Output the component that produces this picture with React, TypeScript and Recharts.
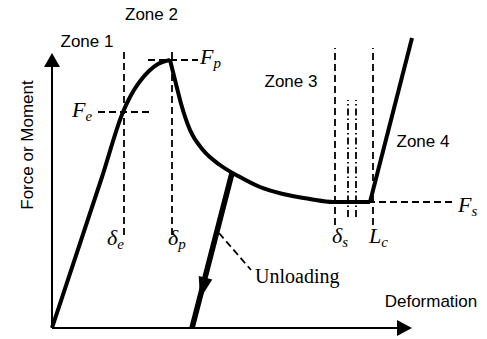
import { ComposedChart, Line, ReferenceLine, Scatter, XAxis, YAxis } from "recharts";

// deformation / force values (arbitrary units)
const LOADING_X = [0, 5.0, 7.1, 7.6, 8.2, 8.9, 9.7, 10.6, 11.8];
const LOADING_Y = [0, 15.1, 21.6, 22.7, 23.8, 24.8, 25.7, 26.4, 26.8];
const SOFTENING_X = [11.8, 12.3, 13.0, 13.8, 15.1, 16.8, 18.8, 20.8, 23.1, 25.8, 28.1, 31.8];
const SOFTENING_Y = [26.8, 24.8, 22.1, 19.8, 17.8, 16.3, 15.1, 14.1, 13.4, 12.9, 12.6, 12.6];
const STIFFENING_X = [31.8, 36.0];
const STIFFENING_Y = [12.6, 29.0];
const UNLOADING_X = [18.0, 14.0];
const UNLOADING_Y = [15.5, 0];

// characteristic points
const DELTA_E = 7.2;
const DELTA_P = 12.0;
const DELTA_S = 28.3;
const L_C = 32.1;
const DELTA_S_BAND = [29.6, 30.4];
const F_E = 21.6;
const F_P = 26.8;
const F_S = 12.6;

type Pt = { x: number; y: number };
const zip = (xs: number[], ys: number[]): Pt[] => xs.map((x, i) => ({ x, y: ys[i] }));

const loading = zip(LOADING_X, LOADING_Y);
const softening = zip(SOFTENING_X, SOFTENING_Y);
const stiffening = zip(STIFFENING_X, STIFFENING_Y);
const unloading = zip(UNLOADING_X, UNLOADING_Y);

const unloadAngle =
  (Math.atan2(-(UNLOADING_Y[1] - UNLOADING_Y[0]), UNLOADING_X[1] - UNLOADING_X[0]) * 180) / Math.PI;

const arrows = [
  { x: 0, y: 27.5, angle: -90, len: 14, half: 8 },
  { x: 36, y: 0, angle: 0, len: 15, half: 8 },
  { x: 14.8, y: 2.9, angle: unloadAngle, len: 22, half: 7 },
];

const SANS = "'Liberation Sans', Arial, sans-serif";
const SERIF = "'Liberation Serif', 'Times New Roman', serif";

const zoneLabels = [
  { x: 9.95, y: 30.8, text: "Zone 2" },
  { x: 3.5, y: 28.1, text: "Zone 1" },
  { x: 23.9, y: 24.1, text: "Zone 3" },
  { x: 37.1, y: 18.1, text: "Zone 4" },
  { x: 37.9, y: 2.1, text: "Deformation" },
];

const symbolLabels = [
  { x: 14.8, y: 26.4, main: "F", sub: "p" },
  { x: 2.0, y: 21.1, main: "F", sub: "e" },
  { x: 40.6, y: 11.6, main: "F", sub: "s" },
  { x: 5.5, y: 8.3, main: "δ", sub: "e" },
  { x: 11.6, y: 8.3, main: "δ", sub: "p" },
  { x: 28.0, y: 8.5, main: "δ", sub: "s" },
  { x: 31.7, y: 8.5, main: "L", sub: "c" },
];

const misc = [
  { x: 20.3, y: 4.5, kind: "unloading" },
  { x: -1.9, y: 18.3, kind: "yaxis" },
];

const dash = { stroke: "#000", strokeWidth: 1.8, strokeDasharray: "7 4" };
const dashDot = { stroke: "#000", strokeWidth: 1.8, strokeDasharray: "7 3 1.5 3" };

function ArrowHead(props: any) {
  const { cx, cy, payload } = props;
  const a = (payload.angle * Math.PI) / 180;
  const ux = Math.cos(a);
  const uy = Math.sin(a);
  const bx = cx - ux * payload.len;
  const by = cy - uy * payload.len;
  const px = -uy * payload.half;
  const py = ux * payload.half;
  return <polygon points={`${cx},${cy} ${bx + px},${by + py} ${bx - px},${by - py}`} fill="#000" />;
}

function ZoneText(props: any) {
  const { cx, cy, payload } = props;
  return (
    <text x={cx} y={cy} textAnchor="middle" fontFamily={SANS} fontSize={17} fill="#000">
      {payload.text}
    </text>
  );
}

function SymbolText(props: any) {
  const { cx, cy, payload } = props;
  return (
    <text x={cx} y={cy} fontFamily={SERIF} fontStyle="italic" fontSize={22} fill="#000">
      {payload.main}
      <tspan fontSize={15} dy={4}>
        {payload.sub}
      </tspan>
    </text>
  );
}

function MiscText(props: any) {
  const { cx, cy, payload } = props;
  if (payload.kind === "yaxis") {
    return (
      <text
        x={cx}
        y={cy}
        transform={`rotate(-90 ${cx} ${cy})`}
        textAnchor="middle"
        fontFamily={SANS}
        fontSize={17}
        fill="#000"
      >
        Force or Moment
      </text>
    );
  }
  return (
    <text x={cx} y={cy} fontFamily={SERIF} fontSize={20} fill="#000">
      Unloading
    </text>
  );
}

export default function App() {
  return (
    <div style={{ position: "absolute", left: 0, top: 0, background: "#fff" }}>
      <ComposedChart width={487} height={339} margin={{ top: 0, right: 0, bottom: 0, left: 0 }}>
        <XAxis type="number" dataKey="x" domain={[-5.2, 43.5]} hide allowDataOverflow />
        <YAxis type="number" dataKey="y" domain={[-1.1, 32.8]} hide allowDataOverflow />

        {/* axes */}
        <ReferenceLine segment={[{ x: 0, y: 0 }, { x: 0, y: 26.3 }]} stroke="#000" strokeWidth={2} />
        <ReferenceLine segment={[{ x: 0, y: 0 }, { x: 34.6, y: 0 }]} stroke="#000" strokeWidth={2} />

        {/* guide lines */}
        <ReferenceLine segment={[{ x: DELTA_E, y: 9.3 }, { x: DELTA_E, y: 27.8 }]} {...dash} />
        <ReferenceLine segment={[{ x: DELTA_P, y: 9.3 }, { x: DELTA_P, y: 27.8 }]} {...dash} />
        <ReferenceLine segment={[{ x: 4.6, y: F_E }, { x: 9.8, y: F_E }]} {...dash} />
        <ReferenceLine segment={[{ x: 9.6, y: F_P }, { x: 14.6, y: F_P }]} {...dash} />
        <ReferenceLine segment={[{ x: DELTA_S, y: 10.3 }, { x: DELTA_S, y: 28.0 }]} {...dash} />
        <ReferenceLine segment={[{ x: L_C, y: 10.3 }, { x: L_C, y: 28.0 }]} {...dash} />
        <ReferenceLine segment={[{ x: DELTA_S_BAND[0], y: 11.1 }, { x: DELTA_S_BAND[0], y: 22.8 }]} {...dashDot} />
        <ReferenceLine segment={[{ x: DELTA_S_BAND[1], y: 11.1 }, { x: DELTA_S_BAND[1], y: 22.8 }]} {...dashDot} />
        <ReferenceLine segment={[{ x: DELTA_S, y: F_S }, { x: 40.1, y: F_S }]} {...dash} />
        <ReferenceLine segment={[{ x: 16.7, y: 9.5 }, { x: 19.9, y: 5.8 }]} {...dash} />

        <Line data={loading} dataKey="y" type="monotone" stroke="#000" strokeWidth={4} dot={false} isAnimationActive={false} />
        <Line data={softening} dataKey="y" type="monotone" stroke="#000" strokeWidth={4} dot={false} isAnimationActive={false} />
        <Line data={stiffening} dataKey="y" type="linear" stroke="#000" strokeWidth={4} dot={false} isAnimationActive={false} />
        <Line data={unloading} dataKey="y" type="linear" stroke="#000" strokeWidth={5.5} dot={false} isAnimationActive={false} />

        <Scatter data={arrows} shape={<ArrowHead />} isAnimationActive={false} />
        <Scatter data={zoneLabels} shape={<ZoneText />} isAnimationActive={false} />
        <Scatter data={symbolLabels} shape={<SymbolText />} isAnimationActive={false} />
        <Scatter data={misc} shape={<MiscText />} isAnimationActive={false} />
      </ComposedChart>
    </div>
  );
}
